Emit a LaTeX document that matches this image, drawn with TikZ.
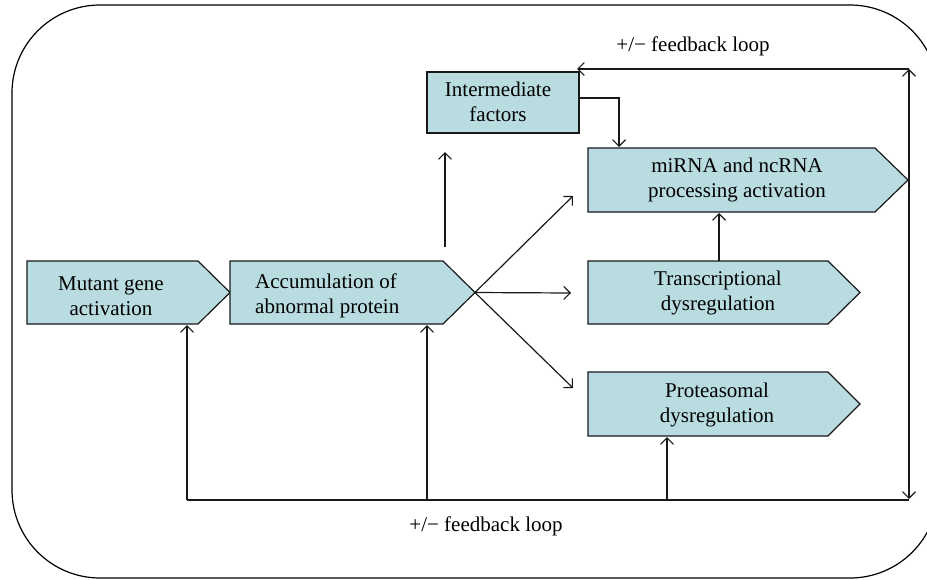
\documentclass[tikz,border=0pt]{standalone}
\usepackage{fontspec}
\setmainfont{Liberation Serif}
\usetikzlibrary{arrows.meta}
\definecolor{boxfill}{RGB}{184,220,224}
\begin{document}
\begin{tikzpicture}[x=1pt,y=-1pt,
  box/.style={draw=black!90,line width=1.2pt,fill=boxfill},
  lbl/.style={font=\fontsize{21}{25}\selectfont,align=center,inner sep=0pt},
  conn/.style={draw=black!90,line width=1.2pt},
  arr/.style={conn,-{Straight Barb[length=6.5pt,width=13pt,line width=1.1pt]}},
  darr/.style={conn,{Straight Barb[length=6.5pt,width=13pt,line width=1.1pt]}-{Straight Barb[length=6.5pt,width=13pt,line width=1.1pt]}}]
\useasboundingbox (0,0) rectangle (927,579);
\clip (0,0) rectangle (927,579);
% outer frame
\draw[line width=1.2pt,rounded corners=88pt] (12,5) rectangle (938,578);
% boxes
\draw[box] (27,261) -- (198,261) -- (230,292.5) -- (198,324) -- (27,324) -- cycle;
\draw[box] (230,261) -- (443,261) -- (475,292.5) -- (443,324) -- (230,324) -- cycle;
\draw[box] (427,72) rectangle (579,133);
\draw[box] (588,148) -- (875,148) -- (908,180) -- (875,212) -- (588,212) -- cycle;
\draw[box] (588,261) -- (828,261) -- (860,292.5) -- (828,324) -- (588,324) -- cycle;
\draw[box] (588,372) -- (828,372) -- (860,404) -- (828,436) -- (588,436) -- cycle;
% labels
\node[lbl] (mut) at (111,296) {Mutant gene\\activation};
\node[lbl,align=left,anchor=west] (acc) at (255,296) {Accumulation of\\abnormal protein};
\node[lbl] (inter) at (498,102) {Intermediate\\factors};
\node[lbl] (mirna) at (737,180) {miRNA and ncRNA\\processing activation};
\node[lbl] (trans) at (718,293) {Transcriptional\\dysregulation};
\node[lbl] (prot) at (717,405) {Proteasomal\\dysregulation};
\node[lbl] (fbtop) at (693,46) {+/{\textminus} feedback loop};
\node[lbl] (fbbot) at (486,526) {+/{\textminus} feedback loop};
% coordinates
\coordinate (acctip) at (475,292.5);
\coordinate (upA) at (445,247);
\coordinate (upB) at (445,152);
\coordinate (intR) at (579,98);
\coordinate (intC) at (619,98);
\coordinate (mirTop) at (619,147);
\coordinate (toMir) at (573,196);
\coordinate (toTrans) at (571,293);
\coordinate (toProt) at (573,388);
\coordinate (transTop) at (719,261);
\coordinate (mirBot) at (719,213);
\coordinate (TR) at (909,69);
\coordinate (TL) at (577,69);
\coordinate (BR) at (909,500);
\coordinate (BRa) at (909,499);
\coordinate (BL) at (187,500);
\coordinate (b2) at (427,500);
\coordinate (b3) at (667,500);
\coordinate (mutBot) at (187,325);
\coordinate (accBot) at (427,325);
\coordinate (protBot) at (667,437);
% connectors
\draw[arr] (upA) -- (upB);
\draw[arr] (intR) -- (intC) -- (mirTop);
\draw[arr] (acctip) -- (toMir);
\draw[arr] (acctip) -- (toTrans);
\draw[arr] (acctip) -- (toProt);
\draw[arr] (transTop) -- (mirBot);
\draw[darr] (TR) -- (BRa);
\draw[arr] (TR) -- (TL);
\draw[conn] (BL) -- (BR);
\draw[arr] (BL) -- (mutBot);
\draw[arr] (b2) -- (accBot);
\draw[arr] (b3) -- (protBot);
\end{tikzpicture}
\end{document}
